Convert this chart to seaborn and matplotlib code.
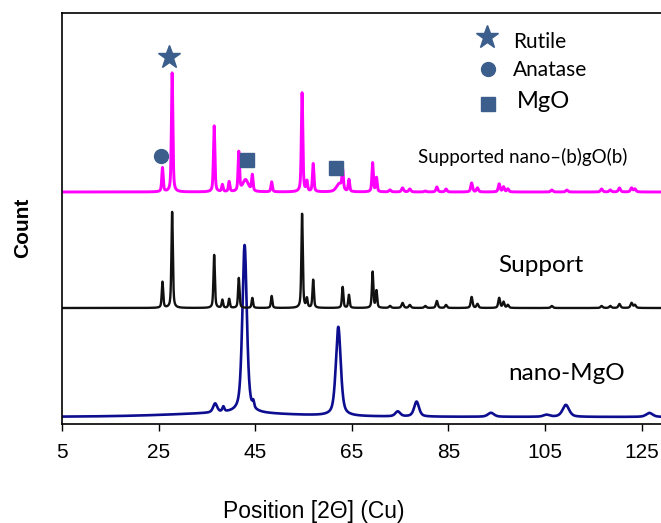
import matplotlib
matplotlib.use("Agg")
import matplotlib.pyplot as plt
import numpy as np
import pandas as pd
import seaborn as sns

sns.set_theme(style="ticks")
plt.rcParams['font.family'] = ['Liberation Sans', 'DejaVu Sans']

# PEAK TABLES (2-theta, height, fwhm)
support_pos = [25.8, 27.8, 36.5, 38.2, 39.6, 41.6, 43.0, 44.4, 48.4, 54.7, 55.7, 57.0, 62.4, 63.1,
               64.4, 69.3, 70.1, 72.9, 75.5, 77.0, 80.2, 82.6, 84.5, 89.8, 91.0, 95.5, 96.4, 97.3,
               106.4, 109.5, 116.7, 118.5, 120.4, 122.9, 123.6]
supported_h = [24, 119, 66, 7, 10, 39, 12, 16, 10, 99, 10, 28, 8, 19,
               12, 29, 14, 2, 4, 3, 1, 5, 3, 9, 4, 8, 5, 3,
               2, 2, 3, 2, 4, 4, 3]
support_h = [26, 96, 53, 8, 9, 30, 0, 10, 12, 94, 9, 28, 0, 21,
             13, 36, 17, 2, 5, 3, 2, 7, 3, 11, 4, 10, 6, 3,
             2, 0, 2, 2, 4, 5, 3]
support_w = [0.35, 0.35, 0.35, 0.35, 0.35, 0.35, 1.4, 0.35, 0.35, 0.35, 0.35, 0.35, 1.4, 0.35,
             0.35, 0.35, 0.35, 0.5, 0.5, 0.5, 0.5, 0.45, 0.45, 0.45, 0.45, 0.45, 0.45, 0.45,
             0.5, 0.5, 0.5, 0.5, 0.5, 0.5, 0.5]

mgo_pos = [36.7, 38.4, 42.8, 44.6, 62.2, 74.5, 78.4, 93.8, 105.3, 109.3, 126.6, 40.0]
mgo_h = [9, 5, 168, 6, 89, 5, 15, 4, 2, 12, 4, 4]
mgo_w = [1.0, 0.5, 1.1, 0.4, 1.2, 1.2, 1.2, 1.5, 1.5, 1.6, 1.6, 30.0]

offsets = {'Supported': 232, 'Support': 116, 'nano-MgO': 7}
colors = {'Supported': '#ff00ff', 'Support': '#111111', 'nano-MgO': '#0d0d8f'}

theta = np.arange(5, 129.3, 0.02)


def pattern(pos, h, w, base):
    y = np.full_like(theta, float(base))
    for c, a, fw in zip(pos, h, w):
        u = (theta - c) / (fw / 2)
        y += a * (0.55 / (1 + u ** 2) + 0.45 * np.exp(-np.log(2) * u ** 2))
    return y


df = pd.concat([
    pd.DataFrame({'theta': theta, 'count': pattern(support_pos, supported_h, support_w, offsets['Supported']), 'sample': 'Supported'}),
    pd.DataFrame({'theta': theta, 'count': pattern(support_pos, support_h, support_w, offsets['Support']), 'sample': 'Support'}),
    pd.DataFrame({'theta': theta, 'count': pattern(mgo_pos, mgo_h, mgo_w, offsets['nano-MgO']), 'sample': 'nano-MgO'}),
])

fig = plt.figure(figsize=(6.61, 5.23), dpi=100)
ax = fig.add_axes([62 / 661, 99 / 523, 599 / 661, 411 / 523])
for name, lw in [('nano-MgO', 1.9), ('Support', 1.7), ('Supported', 2.1)]:
    sns.lineplot(data=df[df['sample'] == name], x='theta', y='count', color=colors[name],
                 linewidth=lw, ax=ax, legend=False, estimator=None, sort=False)

ax.set_xlim(5, 129.0)
ax.set_ylim(0, 411)
ax.set_xticks([5, 25, 45, 65, 85, 105, 125])
ax.set_yticks([])
ax.tick_params(axis='x', labelsize=15, length=5, width=1, colors='black', pad=9)
for s in ['left', 'top', 'bottom']:
    ax.spines[s].set_color('black')
    ax.spines[s].set_linewidth(1.2)
ax.spines['right'].set_visible(False)

ax.set_xlabel('Position [2\u0398] (Cu)', fontsize=16.5, color='black', va='center')
ax.xaxis.set_label_coords(0.42, -0.214)
ax.set_ylabel('Count', fontsize=15, fontweight='bold', color='black', va='center')
ax.yaxis.set_label_coords(-0.065, 0.477)

# PHASE MARKERS
mk = '#3b5e8c'
ax.plot([27.2], [367], marker='*', markersize=17, color=mk, linestyle='none')
ax.plot([25.4], [268], marker='o', markersize=10, color=mk, linestyle='none')
ax.plot([43.4, 61.7], [264, 256], marker='s', markersize=10, color=mk, linestyle='none')

# LEGEND
ax.plot([92.9], [387], marker='*', markersize=17, color=mk, linestyle='none')
ax.plot([93.2], [355], marker='o', markersize=10, color=mk, linestyle='none')
ax.plot([93.2], [320], marker='s', markersize=10, color=mk, linestyle='none')
lab = dict(family=['Lato', 'DejaVu Sans'], color='black', va='center', ha='left')
ax.text(98.4, 382, 'Rutile', fontsize=15, **lab)
ax.text(98.4, 354, 'Anatase', fontsize=15, **lab)
ax.text(99.2, 323, 'MgO', fontsize=17, **lab)

ax.text(78.7, 267, 'Supported nano\u2013(b)gO(b)', fontsize=13.5, **lab)
ax.text(95.3, 159, 'Support', fontsize=17.5, **lab)
ax.text(97.3, 51, 'nano-MgO', fontsize=17.5, **lab)

plt.savefig('out.png', dpi=100)
